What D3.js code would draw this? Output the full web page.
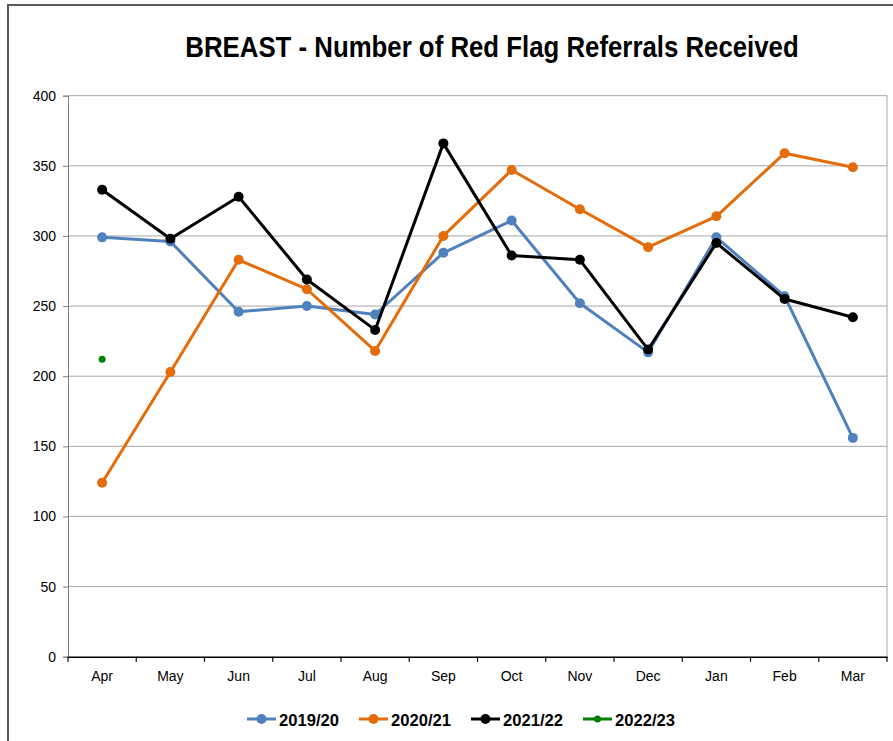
<!DOCTYPE html>
<html>
<head>
<meta charset="utf-8">
<script src="https://cdn.jsdelivr.net/npm/d3@7"></script>
<style>
  body { margin: 0; background: #fff; }
  svg { display: block; }
  text { font-family: "Liberation Sans", Arial, sans-serif; }
</style>
</head>
<body>
<div id="chart"></div>
<script>
const months = ["Apr","May","Jun","Jul","Aug","Sep","Oct","Nov","Dec","Jan","Feb","Mar"];
const s2019 = [299,296,246,250,244,288,311,252,217,299,257,156];
const s2020 = [124,203,283,262,218,300,347,319,292,314,359,349];
const s2021 = [333,298,328,269,233,366,286,283,219,295,255,242];
const s2022 = [212];
const yTicks = [0,50,100,150,200,250,300,350,400];

const series = [
  {name:"2019/20", values:s2019, color:"#4f81bd", r:5},
  {name:"2020/21", values:s2020, color:"#e46c0a", r:5},
  {name:"2021/22", values:s2021, color:"#000000", r:5},
  {name:"2022/23", values:s2022, color:"#008000", r:3.5}
];

const W = 893, H = 741;
const margin = {top: 95.7, right: 6, bottom: 84.3, left: 68};
const width = W - margin.left - margin.right;
const height = H - margin.top - margin.bottom;

const svg = d3.select("#chart").append("svg")
  .attr("width", W).attr("height", H);

// outer border
svg.append("rect")
  .attr("x", 8).attr("y", 5).attr("width", W + 10).attr("height", H + 10)
  .attr("fill", "none").attr("stroke", "#595959").attr("stroke-width", 2);

// title, squeezed horizontally to mimic the narrow font
svg.append("g")
  .attr("transform", "translate(492,57) scale(0.86,1)")
  .append("text")
  .attr("x", 0).attr("y", 0)
  .attr("text-anchor", "middle")
  .attr("font-size", 30).attr("font-weight", "bold")
  .text("BREAST - Number of Red Flag Referrals Received");

const g = svg.append("g")
  .attr("transform", "translate(" + margin.left + "," + margin.top + ")");

const xScale = d3.scaleBand().domain(months).range([0, width]);
const yScale = d3.scaleLinear().domain([0, 400]).range([height, 0]);

// gridlines
g.append("g")
  .selectAll("line")
  .data(yTicks.filter(d => d > 0))
  .join("line")
  .attr("x1", 0).attr("x2", width)
  .attr("y1", d => yScale(d)).attr("y2", d => yScale(d))
  .attr("stroke", "#a6a6a6").attr("stroke-width", 1);

// right border of plot
g.append("line")
  .attr("x1", width).attr("x2", width)
  .attr("y1", 0).attr("y2", height)
  .attr("stroke", "#a6a6a6");

// y axis
const yAxisG = g.append("g")
  .call(d3.axisLeft(yScale).tickValues(yTicks).tickSize(5).tickPadding(7));
yAxisG.select(".domain").attr("stroke", "#7f7f7f");
yAxisG.selectAll(".tick line").attr("stroke", "#7f7f7f");
yAxisG.selectAll("text").attr("font-size", 14).attr("fill", "#000")
  .attr("font-family", "\"Liberation Sans\", Arial, sans-serif");

// x axis
const xAxisG = g.append("g")
  .attr("transform", "translate(0," + height + ")")
  .call(d3.axisBottom(xScale).tickSize(0).tickPadding(14));
xAxisG.select(".domain").attr("stroke", "#000").attr("stroke-width", 1.5);
xAxisG.selectAll("text").attr("font-size", 14).attr("fill", "#000")
  .attr("font-family", "\"Liberation Sans\", Arial, sans-serif");
// tick marks at category boundaries
xAxisG.append("g")
  .selectAll("line")
  .data(d3.range(months.length + 1))
  .join("line")
  .attr("x1", i => i * xScale.step()).attr("x2", i => i * xScale.step())
  .attr("y1", 0).attr("y2", 5)
  .attr("stroke", "#000").attr("stroke-width", 1.2);

const cx = (d, i) => xScale(months[i]) + xScale.bandwidth() / 2;
const line = d3.line().x(cx).y(d => yScale(d));

series.forEach(s => {
  const sg = g.append("g");
  if (s.values.length > 1) {
    sg.append("path")
      .datum(s.values)
      .attr("d", line)
      .attr("fill", "none")
      .attr("stroke", s.color)
      .attr("stroke-width", 3)
      .attr("stroke-linejoin", "round");
  }
  sg.selectAll("circle")
    .data(s.values)
    .join("circle")
    .attr("cx", cx)
    .attr("cy", d => yScale(d))
    .attr("r", s.r)
    .attr("fill", s.color);
});

// legend
const legendX = [247, 359, 471, 583];
const legend = svg.append("g").attr("transform", "translate(0,719)");
series.forEach((s, i) => {
  const lg = legend.append("g").attr("transform", "translate(" + legendX[i] + ",0)");
  lg.append("line").attr("x1", 0).attr("x2", 29).attr("y1", 0).attr("y2", 0)
    .attr("stroke", s.color).attr("stroke-width", 3);
  lg.append("circle").attr("cx", 14.5).attr("cy", 0).attr("r", s.r).attr("fill", s.color);
  lg.append("text")
    .attr("x", 32).attr("y", 6.5)
    .attr("font-size", 17).attr("font-weight", "bold")
    .attr("textLength", 60).attr("lengthAdjust", "spacingAndGlyphs")
    .text(s.name);
});
</script>
</body>
</html>
